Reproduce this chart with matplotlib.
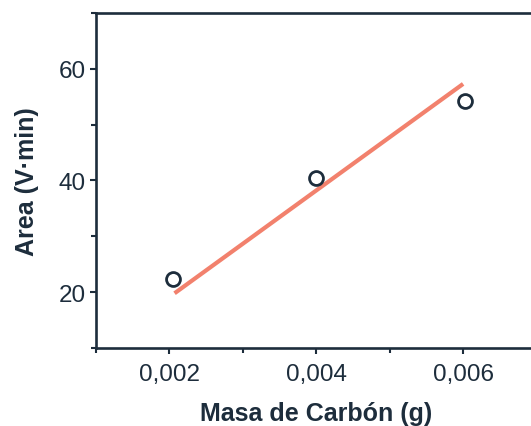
import matplotlib
matplotlib.use('Agg')
import matplotlib.pyplot as plt
from matplotlib.ticker import MultipleLocator

# Data
masa = [0.00205, 0.0040, 0.00603]
area = [22.3, 40.5, 54.3]

# fitted line (end points)
fit_x = [0.00207, 0.0060]
fit_y = [19.8, 57.3]

x_ticks = [0.002, 0.004, 0.006]
x_labels = ['0,002', '0,004', '0,006']
y_ticks = [20, 40, 60]
y_labels = ['20', '40', '60']

dark = '#1d2d3c'
salmon = '#f2816d'

plt.rcParams['font.family'] = ['Liberation Sans', 'DejaVu Sans']

fig = plt.figure(figsize=(5.31, 4.27), dpi=100)
ax = fig.add_axes([0.1808, 0.1827, 0.8296, 0.7845])

ax.plot(fit_x, fit_y, color=salmon, linewidth=3, solid_capstyle='butt',
        zorder=2)
ax.plot(masa, area, linestyle='none', marker='o', markersize=10,
        markerfacecolor='none', markeredgecolor=dark, markeredgewidth=2,
        zorder=3)

ax.set_xlim(0.001, 0.007)
ax.set_ylim(10, 70)
ax.set_xticks(x_ticks)
ax.set_xticklabels(x_labels)
ax.set_yticks(y_ticks)
ax.set_yticklabels(y_labels)
ax.xaxis.set_minor_locator(MultipleLocator(0.001))
ax.yaxis.set_minor_locator(MultipleLocator(10))

for side in ['left', 'bottom', 'top']:
    ax.spines[side].set_color(dark)
    ax.spines[side].set_linewidth(1.9)
ax.spines['right'].set_visible(False)

ax.tick_params(which='major', direction='out', length=4.5, width=1.5,
               color=dark, labelsize=17.5, labelcolor=dark, pad=3,
               top=False, right=False)
ax.tick_params(axis='x', which='major', pad=6.5)
ax.tick_params(which='minor', direction='out', length=3.5, width=1.5,
               color=dark, top=False, right=False)

ax.set_xlabel('Masa de Carbón (g)', fontsize=18, fontweight='bold',
              color=dark, labelpad=11)
ax.set_ylabel('Area (V·min)', fontsize=18, fontweight='bold',
              color=dark, labelpad=14)

fig.savefig('out.png', dpi=100)
